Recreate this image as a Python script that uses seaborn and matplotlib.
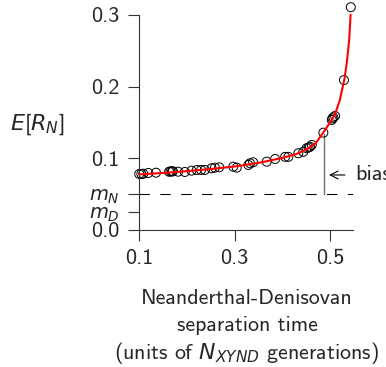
import matplotlib
matplotlib.use("Agg")
import matplotlib.pyplot as plt
import seaborn as sns
import pandas as pd

# simulated points: separation time vs E[R_N]
sep_time = [0.1006, 0.105, 0.109, 0.1195, 0.1356, 0.163, 0.166, 0.169, 0.171,
            0.182, 0.196, 0.210, 0.221, 0.230, 0.238, 0.252, 0.259, 0.268,
            0.2975, 0.3046, 0.329, 0.3325, 0.339, 0.3674, 0.385, 0.406,
            0.4127, 0.4336, 0.444, 0.451, 0.455, 0.458, 0.4617, 0.486,
            0.5036, 0.505, 0.507, 0.5105, 0.529, 0.5434]
e_rn = [0.0781, 0.0781, 0.0785, 0.0795, 0.0799, 0.0812, 0.0818, 0.0815, 0.0819,
        0.0813, 0.0809, 0.0827, 0.0837, 0.0837, 0.0837, 0.0860, 0.0869, 0.0874,
        0.0883, 0.0869, 0.0907, 0.0930, 0.0944, 0.0953, 0.0990, 0.1020,
        0.1020, 0.1070, 0.1090, 0.1140, 0.1150, 0.1160, 0.1186, 0.1357,
        0.1534, 0.1555, 0.1570, 0.1590, 0.2090, 0.3106]

# fitted curve
curve_x = [0.10, 0.15, 0.20, 0.25, 0.30, 0.35, 0.40, 0.43, 0.45, 0.47, 0.49,
           0.50, 0.51, 0.52, 0.53, 0.535, 0.54, 0.543]
curve_y = [0.0775, 0.0795, 0.0820, 0.0850, 0.0885, 0.0935, 0.1005, 0.1060,
           0.1120, 0.1210, 0.1400, 0.1500, 0.1610, 0.1800, 0.2100, 0.2330,
           0.2650, 0.3000]

m_n = 0.05
m_d = 0.025
bias_x = 0.488
bias_top = 0.134
ytick_vals = [0.0, m_d, m_n, 0.1, 0.2, 0.3]
ytick_labels = ["0.0", "$m_D$", "$m_N$", "0.1", "0.2", "0.3"]
xtick_vals = [0.1, 0.3, 0.5]
xtick_labels = ["0.1", "0.3", "0.5"]
xlabel_lines = ["Neanderthal-Denisovan", "separation time",
                "(units of $N_{XYND}$ generations)"]

sns.set_style("ticks")
plt.rcParams["font.family"] = ["cmss10", "DejaVu Sans"]
plt.rcParams["mathtext.fontset"] = "custom"
plt.rcParams["mathtext.rm"] = "cmss10"
plt.rcParams["mathtext.it"] = "DejaVu Sans:italic"
plt.rcParams["axes.unicode_minus"] = False

pts = pd.DataFrame({"t": sep_time, "r": e_rn})
curve = pd.DataFrame({"t": curve_x, "r": curve_y})

fig = plt.figure(figsize=(3.86, 3.67), dpi=100)
ax = fig.add_axes([0.360, 0.3733, 0.5545, 0.6157])

sns.scatterplot(data=pts, x="t", y="r", ax=ax, s=42, facecolors="none",
                edgecolor="black", linewidth=0.7, zorder=2, clip_on=False)
sns.lineplot(data=curve, x="t", y="r", ax=ax, color="red", linewidth=1.5,
             zorder=3)

ax.axhline(m_n, color="black", linewidth=0.75, linestyle=(0, (10, 10)),
           zorder=1)
ax.plot([bias_x, bias_x], [m_n, bias_top], color="#707070", linewidth=1.0,
        zorder=1)
ax.annotate("", xy=(bias_x + 0.004, 0.0767), xytext=(0.537, 0.0767),
            arrowprops=dict(arrowstyle="->", color="black", lw=0.8,
                            mutation_scale=14),
            annotation_clip=False)
ax.text(0.552, 0.0767, "bias", fontsize=16, va="center", ha="left",
        clip_on=False)

ax.set_xlim(0.1, 0.548)
ax.set_ylim(0, 0.315)
ax.set_xticks(xtick_vals)
ax.set_xticklabels(xtick_labels)
ax.set_yticks(ytick_vals)
ax.set_yticklabels(ytick_labels)
ax.tick_params(length=8, width=0.8, color="#333333", labelsize=16, pad=6)
# the m_D / m_N labels sit close together, keep them a bit smaller
for lab in ax.get_yticklabels()[1:3]:
    lab.set_fontsize(14)
ax.set_xlabel("")
ax.set_ylabel("")

for s in ["top", "right"]:
    ax.spines[s].set_visible(False)
ax.spines["left"].set_bounds(0, 0.3)
for s in ["left", "bottom"]:
    ax.spines[s].set_linewidth(0.8)
    ax.spines[s].set_color("#333333")

fig.text(37 / 386, 1 - 124 / 367, "$E[R_N]$", fontsize=16, ha="center",
         va="center")
for line, ypx in zip(xlabel_lines, [298, 325.5, 353]):
    fig.text(247 / 386, 1 - ypx / 367, line, fontsize=15.8, ha="center",
             va="center")

fig.savefig("out.png", dpi=100)
